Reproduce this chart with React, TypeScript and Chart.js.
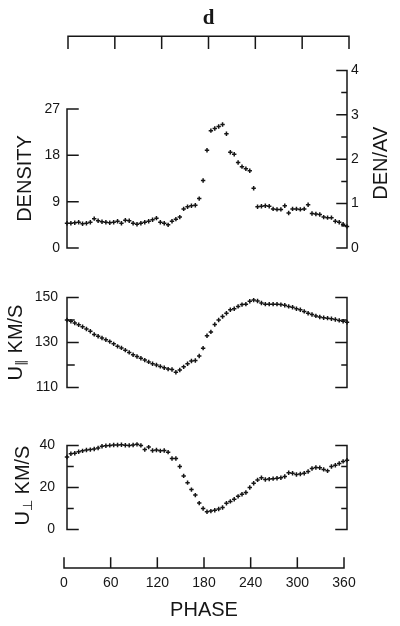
import React, { useEffect, useRef } from "react";
import { Chart, registerables } from "chart.js";

Chart.register(...registerables);

// ---------- data ----------
const PHASE = [
  0, 5, 10, 15, 20, 25, 30, 35, 40, 45, 50, 55, 60, 65, 70, 75, 80, 85, 90, 95,
  100, 105, 110, 115, 120, 125, 130, 135, 140, 145, 150, 155, 160, 165, 170, 175,
  180, 185, 190, 195, 200, 205, 210, 215, 220, 225, 230, 235, 240, 245, 250, 255,
  260, 265, 270, 275, 280, 285, 290, 295, 300, 305, 310, 315, 320, 325, 330, 335,
  340, 345, 350, 355, 360,
];

const DENSITY = [
  4.8, 4.8, 4.9, 5.0, 4.7, 4.8, 5.0, 5.7, 5.3, 5.1, 5.0, 4.9, 5.0, 5.2, 4.8, 5.4,
  5.3, 4.8, 4.6, 4.8, 5.0, 5.2, 5.5, 5.8, 5.0, 4.8, 4.5, 5.2, 5.6, 6.0, 7.6, 8.0,
  8.2, 8.3, 9.6, 13.1, 19.0, 22.8, 23.2, 23.6, 24.0, 22.2, 18.6, 18.2, 16.6, 15.8,
  15.4, 15.0, 11.6, 8.0, 8.1, 8.2, 8.1, 7.6, 7.5, 7.5, 8.2, 6.8, 7.6, 7.6, 7.5,
  7.6, 8.4, 6.7, 6.6, 6.5, 6.0, 5.9, 5.9, 5.2, 5.0, 4.6, 4.2,
];

const U_PAR = [
  140.0, 139.4, 138.6, 137.9, 137.0, 136.0, 135.0, 133.6, 132.8, 132.0, 131.2,
  130.4, 129.4, 128.3, 127.6, 126.6, 125.6, 124.6, 123.8, 123.0, 122.2, 121.4,
  120.6, 120.0, 119.4, 118.8, 118.2, 118.0, 116.8, 117.8, 119.2, 120.6, 121.8,
  122.0, 124.0, 127.5, 133.0, 134.7, 138.0, 140.0, 141.5, 143.0, 144.5, 145.0,
  146.0, 146.8, 147.0, 148.3, 148.8, 148.4, 147.5, 147.0, 147.0, 147.0, 147.0,
  146.8, 146.5, 146.0, 145.6, 145.0, 144.5, 143.8, 143.0, 142.4, 141.8, 141.3,
  141.0, 140.8, 140.5, 140.2, 139.8, 139.4, 139.0,
];

const U_PERP = [
  34.5, 36.0, 36.3, 37.0, 37.4, 37.8, 38.0, 38.3, 38.8, 39.6, 39.8, 40.0, 40.2,
  40.2, 40.3, 40.1, 40.0, 40.2, 40.5, 40.0, 38.0, 39.2, 37.6, 37.8, 37.4, 37.6,
  36.8, 33.8, 33.8, 30.0, 25.5, 22.3, 19.0, 16.4, 12.6, 10.0, 8.5, 8.8, 9.2, 9.8,
  10.5, 12.5, 13.4, 14.4, 15.8, 16.8, 17.6, 20.0, 22.0, 23.6, 24.6, 23.8, 24.0,
  24.2, 24.4, 24.6, 25.2, 27.0, 26.8, 26.2, 26.4, 26.8, 27.6, 29.0, 29.5, 29.4,
  28.6, 27.9, 30.0, 30.6, 31.4, 32.4, 33.0,
];

const PHASE_TICKS = [0, 60, 120, 180, 240, 300, 360];
const DENSITY_TICKS = [0, 9, 18, 27];
const DEN_AV_TICKS = [0, 0.5, 1, 1.5, 2, 2.5, 3, 3.5, 4];
const DEN_AV_LABELS = [0, 1, 2, 3, 4];
const U_PAR_TICKS = [110, 120, 130, 140, 150];
const U_PAR_LABELS = [110, 130, 150];
const U_PERP_TICKS = [0, 10, 20, 30, 40];
const U_PERP_LABELS = [0, 20, 40];

// ---------- styling ----------
const INK = "#161616";
const SANS = "'Liberation Sans', Arial, sans-serif";
const SERIF = "'Liberation Serif', 'DejaVu Serif', serif";
const AXIS_LW = 1.5;

function drawVAxis(
  chart: any,
  scaleId: string,
  side: "left" | "right",
  ticks: number[],
  labels: number[],
  major: number,
  minor: number
) {
  const ctx = chart.ctx;
  const s = chart.scales[scaleId];
  const x = side === "left" ? chart.chartArea.left : chart.chartArea.right;
  const dir = side === "left" ? 1 : -1;
  ctx.save();
  ctx.strokeStyle = INK;
  ctx.lineWidth = AXIS_LW;
  ctx.lineCap = "square";
  ctx.beginPath();
  ctx.moveTo(x, s.getPixelForValue(ticks[0]));
  ctx.lineTo(x, s.getPixelForValue(ticks[ticks.length - 1]));
  for (const v of ticks) {
    const y = s.getPixelForValue(v);
    const len = labels.includes(v) ? major : minor;
    ctx.moveTo(x, y);
    ctx.lineTo(x + dir * len, y);
  }
  ctx.stroke();
  ctx.restore();
}

function drawHAxis(chart: any, side: "top" | "bottom", ticks: number[], len: number) {
  const ctx = chart.ctx;
  const s = chart.scales.x;
  const y = side === "top" ? chart.chartArea.top : chart.chartArea.bottom;
  const dir = side === "top" ? 1 : -1;
  ctx.save();
  ctx.strokeStyle = INK;
  ctx.lineWidth = AXIS_LW;
  ctx.lineCap = "square";
  ctx.beginPath();
  ctx.moveTo(s.getPixelForValue(ticks[0]), y);
  ctx.lineTo(s.getPixelForValue(ticks[ticks.length - 1]), y);
  for (const v of ticks) {
    const x = s.getPixelForValue(v);
    ctx.moveTo(x, y);
    ctx.lineTo(x, y + dir * len);
  }
  ctx.stroke();
  ctx.restore();
}

type Part = [string, number, number];
function drawRotated(ctx: CanvasRenderingContext2D, cx: number, cy: number, parts: Part[]) {
  ctx.save();
  ctx.translate(cx, cy);
  ctx.rotate(-Math.PI / 2);
  ctx.fillStyle = INK;
  ctx.textBaseline = "middle";
  ctx.textAlign = "left";
  let total = 0;
  for (const [t, size] of parts) {
    ctx.font = `${size}px ${SANS}`;
    total += ctx.measureText(t).width;
  }
  let x = -total / 2;
  for (const [t, size, shift] of parts) {
    ctx.font = `${size}px ${SANS}`;
    ctx.fillText(t, x, shift);
    x += ctx.measureText(t).width;
  }
  ctx.restore();
}

const baseOptions = {
  responsive: false,
  animation: false as const,
  devicePixelRatio: 1,
  events: [] as any[],
  plugins: {
    legend: { display: false },
    tooltip: { enabled: false },
    title: { display: false },
  },
};

const hiddenX = { type: "linear" as const, min: 0, max: 360, display: false };

function yAxis(
  min: number,
  max: number,
  ticks: number[],
  labels: number[],
  position: "left" | "right",
  width: number,
  padding: number
) {
  return {
    type: "linear" as const,
    position,
    min,
    max,
    afterBuildTicks: (s: any) => {
      s.ticks = ticks.map((v) => ({ value: v }));
    },
    afterFit: (s: any) => {
      s.width = width;
    },
    ticks: {
      autoSkip: false,
      padding,
      color: INK,
      font: { family: SANS, size: 14 },
      callback: (v: any) => (labels.includes(Number(v)) ? String(v) : ""),
    },
    grid: { display: false, drawTicks: false },
    border: { display: false },
  };
}

function points(ys: number[]) {
  return PHASE.map((x, i) => ({ x, y: ys[i] }));
}

const pointStyle = {
  pointStyle: "cross" as const,
  pointRadius: 2.2,
  pointBorderWidth: 1.5,
  borderColor: INK,
  backgroundColor: INK,
  clip: false as const,
};

export default function App() {
  const topRef = useRef<HTMLCanvasElement>(null);
  const denRef = useRef<HTMLCanvasElement>(null);
  const parRef = useRef<HTMLCanvasElement>(null);
  const perpRef = useRef<HTMLCanvasElement>(null);
  const botRef = useRef<HTMLCanvasElement>(null);

  useEffect(() => {
    const charts: Chart[] = [];

    // Top phase axis with panel label "d"
    charts.push(
      new Chart(topRef.current!, {
        type: "scatter",
        data: { datasets: [] },
        options: {
          ...baseOptions,
          layout: { padding: { left: 68, right: 51, top: 0, bottom: 10 } },
          plugins: {
            ...baseOptions.plugins,
            title: {
              display: true,
              text: "d",
              color: INK,
              font: { family: SERIF, size: 21, weight: "bold" },
              padding: { top: 6, bottom: 5 },
            },
          },
          scales: { x: hiddenX, y: { display: false } },
        } as any,
        plugins: [
          {
            id: "topAxis",
            afterDraw: (c: any) => drawHAxis(c, "top", PHASE_TICKS, 12),
          },
        ],
      })
    );

    // Density panel
    charts.push(
      new Chart(denRef.current!, {
        type: "scatter",
        data: { datasets: [{ data: points(DENSITY), ...pointStyle }] },
        options: {
          ...baseOptions,
          layout: { padding: { left: 0, right: 0, top: 10, bottom: 22 } },
          scales: {
            x: hiddenX,
            y: yAxis(0, 34.5, DENSITY_TICKS, DENSITY_TICKS, "left", 67, 7),
            y2: yAxis(0, 4, DEN_AV_TICKS, DEN_AV_LABELS, "right", 53, 4),
          },
        } as any,
        plugins: [
          {
            id: "densityFrame",
            afterDraw: (c: any) => {
              drawVAxis(c, "y", "left", DENSITY_TICKS, DENSITY_TICKS, 11, 11);
              drawVAxis(c, "y2", "right", DEN_AV_TICKS, DEN_AV_LABELS, 10, 5);
              const y = c.scales.y;
              const y2 = c.scales.y2;
              const ca = c.chartArea;
              drawRotated(
                c.ctx,
                ca.left - 42,
                (y.getPixelForValue(0) + y.getPixelForValue(27)) / 2,
                [["DENSITY", 20, 0]]
              );
              drawRotated(
                c.ctx,
                ca.right + 34,
                (y2.getPixelForValue(0) + y2.getPixelForValue(4)) / 2 + 4,
                [["DEN/AV", 20, 0]]
              );
            },
          },
        ],
      })
    );

    // U parallel panel
    charts.push(
      new Chart(parRef.current!, {
        type: "scatter",
        data: { datasets: [{ data: points(U_PAR), ...pointStyle }] },
        options: {
          ...baseOptions,
          layout: { padding: { left: 0, right: 53, top: 16, bottom: 14 } },
          scales: {
            x: hiddenX,
            y: yAxis(110, 150, U_PAR_TICKS, U_PAR_LABELS, "left", 67, 9),
          },
        } as any,
        plugins: [
          {
            id: "parFrame",
            afterDraw: (c: any) => {
              drawVAxis(c, "y", "left", U_PAR_TICKS, U_PAR_LABELS, 11, 7);
              drawVAxis(c, "y", "right", U_PAR_TICKS, U_PAR_LABELS, 11, 5);
              const ca = c.chartArea;
              drawRotated(c.ctx, ca.left - 51, (ca.top + ca.bottom) / 2, [
                ["U", 20, 0],
                ["\u2225", 13, 5],
                [" KM/S", 20, 0],
              ]);
            },
          },
        ],
      })
    );

    // U perpendicular panel
    charts.push(
      new Chart(perpRef.current!, {
        type: "scatter",
        data: { datasets: [{ data: points(U_PERP), ...pointStyle }] },
        options: {
          ...baseOptions,
          layout: { padding: { left: 0, right: 53, top: 15, bottom: 15 } },
          scales: {
            x: hiddenX,
            y: yAxis(0, 40, U_PERP_TICKS, U_PERP_LABELS, "left", 67, 12),
          },
        } as any,
        plugins: [
          {
            id: "perpFrame",
            afterDraw: (c: any) => {
              drawVAxis(c, "y", "left", U_PERP_TICKS, U_PERP_LABELS, 11, 6);
              drawVAxis(c, "y", "right", U_PERP_TICKS, U_PERP_LABELS, 11, 5);
              const ca = c.chartArea;
              drawRotated(c.ctx, ca.left - 44, (ca.top + ca.bottom) / 2 - 2, [
                ["U", 20, 0],
                ["\u22A5", 13, 5],
                [" KM/S", 20, 0],
              ]);
            },
          },
        ],
      })
    );

    // Bottom phase axis
    charts.push(
      new Chart(botRef.current!, {
        type: "scatter",
        data: { datasets: [] },
        options: {
          ...baseOptions,
          layout: { padding: { left: 64, right: 56, top: 10, bottom: 4 } },
          scales: {
            x: {
              type: "linear",
              position: "bottom",
              min: 0,
              max: 360,
              afterBuildTicks: (s: any) => {
                s.ticks = PHASE_TICKS.map((v) => ({ value: v }));
              },
              afterFit: (s: any) => {
                s.height = 54;
              },
              ticks: {
                autoSkip: false,
                maxRotation: 0,
                padding: 7,
                color: INK,
                font: { family: SANS, size: 14 },
              },
              grid: { display: false, drawTicks: false },
              border: { display: false },
              title: {
                display: true,
                text: "PHASE",
                color: INK,
                font: { family: SANS, size: 20 },
                padding: { top: 0, bottom: 0 },
              },
            },
            y: { display: false },
          },
        } as any,
        plugins: [
          {
            id: "bottomAxis",
            afterDraw: (c: any) => drawHAxis(c, "bottom", PHASE_TICKS, 10),
          },
        ],
      })
    );

    return () => {
      charts.forEach((c) => c.destroy());
    };
  }, []);

  const place = (top: number, height: number): React.CSSProperties => ({
    position: "absolute",
    left: 0,
    top,
    width: 400,
    height,
    display: "block",
  });

  return (
    <div
      style={{
        position: "absolute",
        left: 0,
        top: 0,
        width: 400,
        height: 626,
        background: "#ffffff",
        overflow: "hidden",
      }}
    >
      <canvas ref={topRef} width={400} height={60} style={place(0, 60)} />
      <canvas ref={denRef} width={400} height={215} style={place(55, 215)} />
      <canvas ref={parRef} width={400} height={125} style={place(280, 125)} />
      <canvas ref={perpRef} width={400} height={125} style={place(425, 125)} />
      <canvas ref={botRef} width={400} height={86} style={place(540, 86)} />
    </div>
  );
}
